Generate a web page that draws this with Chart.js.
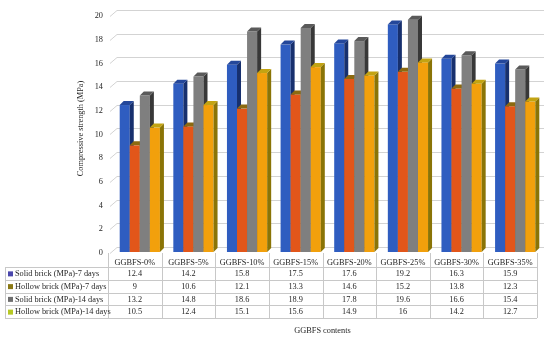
<!DOCTYPE html>
<html><head><meta charset="utf-8">
<script src="https://cdn.jsdelivr.net/npm/chart.js@4/dist/chart.umd.min.js"></script>
<style>html,body{margin:0;padding:0;background:#fff}#wrap{width:550px;height:337px;position:relative}</style>
</head><body><div id="wrap"><canvas id="c" width="550" height="337"></canvas></div>
<script>
const categories = ['GGBFS-0%','GGBFS-5%','GGBFS-10%','GGBFS-15%','GGBFS-20%','GGBFS-25%','GGBFS-30%','GGBFS-35%'];
const seriesLabels = ['Solid brick (MPa)-7 days','Hollow brick (MPa)-7 days','Solid brick (MPa)-14 days','Hollow brick (MPa)-14 days'];
const solid7 = [12.4,14.2,15.8,17.5,17.6,19.2,16.3,15.9];
const hollow7 = [9,10.6,12.1,13.3,14.6,15.2,13.8,12.3];
const solid14 = [13.2,14.8,18.6,18.9,17.8,19.6,16.6,15.4];
const hollow14 = [10.5,12.4,15.1,15.6,14.9,16,14.2,12.7];

const frontColors = ['#2F5DC0','#E2561A','#7F7F7F','#F2A00C'];
const sideColors  = ['#17306E','#7A4A08','#383838','#8A7406'];
const topColors   = ['#24479A','#8C6A10','#5A5A5A','#C3A412'];
const keyColors   = ['#4A46AC','#8A7814','#6E6E6E','#B6C824'];
const seriesData = [solid7, hollow7, solid14, hollow14];
const FONT = 'Liberation Serif';
const FS = 8.3;

const threeD = {
  id:'threeD',
  beforeDatasetsDraw(chart){
    const ctx = chart.ctx, y = chart.scales.y, a = chart.chartArea;
    ctx.save();
    ctx.strokeStyle = '#D3D3D3'; ctx.lineWidth = 1;
    y.ticks.forEach(t => {
      const py = Math.round(y.getPixelForValue(t.value)) + 0.5;
      ctx.beginPath();
      ctx.moveTo(a.left + 2, py + 6);
      ctx.lineTo(a.left + 9, py);
      ctx.lineTo(a.right + 7, py);
      ctx.stroke();
    });
    ctx.restore();
  },
  beforeDatasetDraw(){ return false; },
  afterDatasetsDraw(chart){
    const ctx = chart.ctx, d = 4, sx = 5, sy = 5;
    ctx.save();
    chart.data.datasets.forEach((ds, i) => {
      const meta = chart.getDatasetMeta(i);
      meta.data.forEach(el => {
        const l = el.x - el.width/2 + sx, r = el.x + el.width/2 + sx;
        const t = el.y + sy, b = el.base + sy;
        ctx.fillStyle = frontColors[i];
        ctx.fillRect(l, t, r - l, b - t);
        ctx.fillStyle = sideColors[i];
        ctx.beginPath(); ctx.moveTo(r, t); ctx.lineTo(r + d, t - d); ctx.lineTo(r + d, b - d); ctx.lineTo(r, b); ctx.closePath(); ctx.fill();
        ctx.fillStyle = topColors[i];
        ctx.beginPath(); ctx.moveTo(l, t); ctx.lineTo(l + d, t - d); ctx.lineTo(r + d, t - d); ctx.lineTo(r, t); ctx.closePath(); ctx.fill();
      });
    });
    ctx.restore();
  },
  afterDraw(chart){
    const ctx = chart.ctx, x = chart.scales.x, a = chart.chartArea;
    const n = categories.length, cw = (x.right - x.left) / n;
    const rowTop = a.bottom + 20, rowH = 12.75, nRows = seriesData.length;
    const tableBottom = rowTop + rowH * nRows;
    ctx.save();
    ctx.strokeStyle = '#C8C8C8'; ctx.lineWidth = 1;
    for (let r = 0; r <= nRows; r++) {
      const py = Math.round(rowTop + r * rowH) + 0.5;
      ctx.beginPath(); ctx.moveTo(5, py); ctx.lineTo(x.right, py); ctx.stroke();
    }
    for (let c = 0; c <= n; c++) {
      const px = Math.round(x.left + c * cw) + 0.5;
      ctx.beginPath(); ctx.moveTo(px, a.bottom + 6); ctx.lineTo(px, tableBottom); ctx.stroke();
    }
    ctx.beginPath(); ctx.moveTo(5.5, rowTop); ctx.lineTo(5.5, tableBottom); ctx.stroke();
    ctx.font = FS + 'px "' + FONT + '"';
    ctx.textBaseline = 'middle';
    seriesData.forEach((arr, r) => {
      const cy = rowTop + r * rowH + rowH / 2 + 0.5;
      ctx.fillStyle = keyColors[r];
      ctx.fillRect(8, cy - 2.5, 5, 5);
      ctx.fillStyle = '#262626';
      ctx.textAlign = 'left';
      ctx.fillText(seriesLabels[r], 15, cy);
      ctx.textAlign = 'center';
      arr.forEach((v, c) => ctx.fillText(String(v), x.getPixelForValue(c), cy));
    });
    ctx.restore();
  }
};

new Chart(document.getElementById('c'), {
  type: 'bar',
  data: {
    labels: categories,
    datasets: seriesData.map((arr, i) => ({
      label: seriesLabels[i], data: arr, backgroundColor: frontColors[i],
      categoryPercentage: 0.75, barPercentage: 1.0
    }))
  },
  options: {
    responsive: false, animation: false,
    layout: { padding: { left: 70, right: 13, top: -3, bottom: 0 } },
    plugins: { legend: { display: false }, tooltip: { enabled: false } },
    scales: {
      x: {
        grid: { display: false, drawTicks: false },
        border: { display: false },
        ticks: { font: { family: FONT, size: FS }, color: '#262626', padding: 11, maxRotation: 0, autoSkip: false },
        title: { display: true, text: 'GGBFS contents', font: { family: FONT, size: FS }, color: '#262626', padding: { top: 0, bottom: 1 } },
        afterFit(s) { s.height = 90; }
      },
      y: {
        min: 0, max: 20,
        grid: { display: false, drawTicks: false },
        border: { display: false },
        ticks: { stepSize: 2, font: { family: FONT, size: FS }, color: '#262626', padding: 5, labelOffset: 6 },
        title: { display: true, text: 'Compressive strength (MPa)', font: { family: FONT, size: FS }, color: '#262626', padding: { top: 6, bottom: 0 } },
        afterFit(s) { s.width = 38; }
      }
    }
  },
  plugins: [threeD]
});
</script>
</body></html>
